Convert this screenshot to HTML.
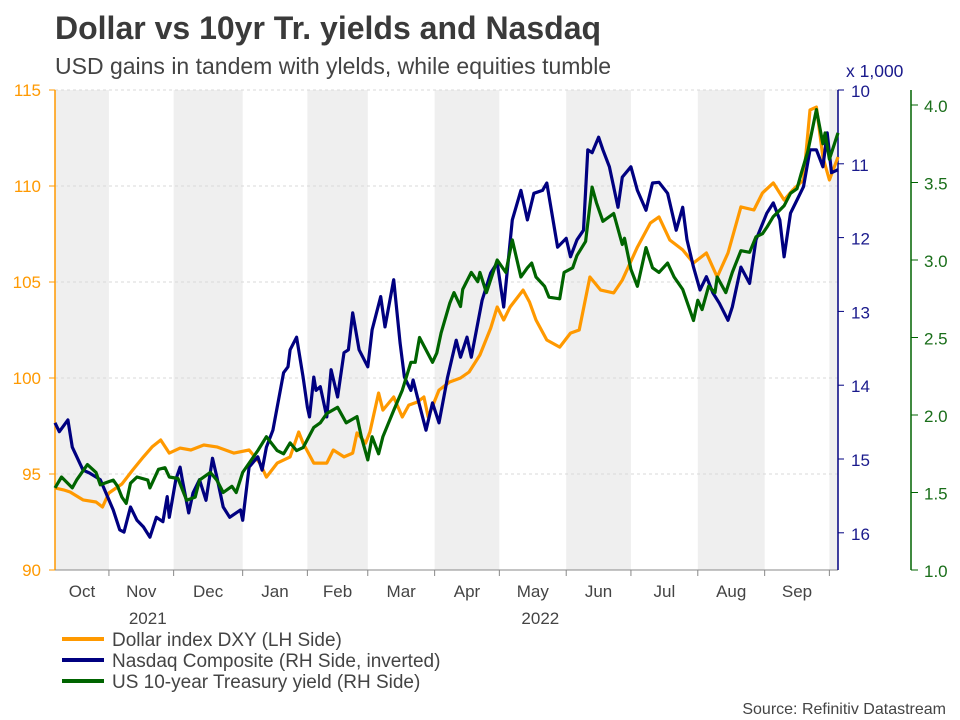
<!DOCTYPE html>
<html><head><meta charset="utf-8"><style>
body{margin:0;background:#fff;font-family:"Liberation Sans",Arial,sans-serif;}
svg{display:block}
</style></head><body>
<svg id="chart" width="960" height="720" xmlns="http://www.w3.org/2000/svg">
<text x="55" y="39" font-size="32" font-weight="bold" fill="#3a3a3a">Dollar vs 10yr Tr. yields and Nasdaq</text>
<text x="55" y="74" font-size="23" fill="#444">USD gains in tandem with ylelds, while equities tumble</text>
<text x="846" y="77" font-size="17.5" fill="#1a1a8c">x 1,000</text>
<g id="bands"></g><g id="grid"></g><g id="axes"></g><g id="series"></g>
<g>
<line x1="62" y1="639" x2="104" y2="639" stroke="#ff9900" stroke-width="4"/>
<text x="112" y="646" font-size="19" fill="#444">Dollar index DXY (LH Side)</text>
<line x1="62" y1="660" x2="104" y2="660" stroke="#000080" stroke-width="4"/>
<text x="112" y="667" font-size="19" fill="#444">Nasdaq Composite (RH Side, inverted)</text>
<line x1="62" y1="681" x2="104" y2="681" stroke="#006400" stroke-width="4"/>
<text x="112" y="688" font-size="19" fill="#444">US 10-year Treasury yield (RH Side)</text>
</g>
<text x="946" y="714" font-size="16" fill="#444" text-anchor="end">Source: Refinitiv Datastream</text>
</svg>
<script>
const dxyDays=[0,4,7,13,19,22,25,31,36,41,45,49,53,58,63,69,75,83,90,95,98,103,109,113,115,120,126,129,134,138,140,144,146,150,152,157,161,164,168,171,173,178,183,188,192,197,202,205,208,211,217,220,223,228,234,239,243,248,253,259,263,270,276,280,285,291,296,302,307,312,318,324,328,333,338,342,347,350,353,356,359,363];
const dxyValues=[94.27,94.17,94.06,93.65,93.54,93.28,94.01,94.48,95.21,95.89,96.41,96.77,96.09,96.35,96.25,96.51,96.41,96.09,96.25,95.57,94.84,95.57,95.89,97.19,96.61,95.57,95.57,96.25,95.89,96.09,97.14,96.61,97.19,99.22,98.33,99.01,97.97,98.59,98.75,99.01,97.97,99.37,99.79,100.0,100.31,101.2,102.6,103.7,103.02,103.7,104.58,103.96,103.02,101.98,101.61,102.34,102.5,105.26,104.58,104.43,105.1,106.82,108.07,108.39,107.19,106.67,105.99,106.51,105.26,106.51,108.91,108.75,109.64,110.16,109.27,109.79,110.31,113.96,114.11,111.51,110.31,111.51];
const nasdaqDays=[0,2,6,8,13,16,21,27,30,32,35,38,41,44,47,50,52,53,56,58,59,62,64,67,70,73,75,78,81,86,87,90,94,96,98,101,106,108,109,112,115,117,118,120,121,123,126,128,131,134,136,138,141,145,147,151,153,157,160,162,165,166,168,172,175,178,182,186,188,191,193,198,202,205,208,212,216,219,222,226,228,233,237,239,242,245,247,249,252,254,257,261,263,267,270,274,277,280,284,288,291,293,296,299,302,305,308,312,314,318,322,325,330,333,336,338,341,344,347,350,353,356,358,360,363];
const nasdaqValues=[14.51,14.63,14.47,14.84,15.15,15.19,15.28,15.69,15.96,15.99,15.65,15.83,15.92,16.06,15.79,15.85,15.51,15.79,15.28,15.11,15.28,15.73,15.46,15.28,15.56,14.99,15.24,15.65,15.79,15.69,15.83,15.11,14.97,15.15,14.84,14.61,13.83,13.75,13.52,13.35,13.89,14.30,14.43,13.89,14.07,14.02,14.43,13.79,14.16,13.56,13.52,13.02,13.52,13.75,13.25,12.80,13.21,12.57,13.43,13.89,14.07,13.93,14.16,14.61,14.24,14.51,13.89,13.39,13.62,13.35,13.62,12.85,12.48,12.34,12.94,11.76,11.36,11.76,11.40,11.36,11.26,12.13,12.01,12.26,12.03,11.90,10.81,10.85,10.64,10.81,11.04,11.59,11.18,11.04,11.36,11.63,11.26,11.25,11.40,11.90,11.59,12.03,12.40,12.71,12.53,12.75,12.89,13.12,12.94,12.40,12.62,12.03,11.67,11.53,11.76,12.26,11.67,11.49,11.31,10.81,10.81,11.04,10.58,11.12,11.08];
const yieldDays=[0,3,8,10,15,19,21,25,27,29,31,33,35,38,43,44,48,51,53,57,61,65,67,72,75,78,82,84,87,94,98,103,106,109,112,115,120,123,126,131,135,140,142,145,147,150,152,157,161,165,167,169,172,175,177,179,183,185,188,189,193,196,197,200,205,209,212,216,219,221,223,227,229,234,236,240,242,246,249,251,254,259,263,264,267,270,274,277,280,284,287,291,296,298,300,303,306,307,311,314,318,322,325,328,330,333,338,341,344,346,349,353,356,357,359,363];
const yieldValues=[1.53,1.60,1.53,1.58,1.68,1.63,1.55,1.57,1.58,1.54,1.47,1.43,1.56,1.60,1.58,1.53,1.65,1.66,1.60,1.59,1.45,1.47,1.58,1.63,1.58,1.50,1.54,1.50,1.63,1.77,1.86,1.77,1.75,1.82,1.77,1.79,1.92,1.95,2.01,2.05,1.95,1.99,1.86,1.71,1.86,1.75,1.86,2.03,2.16,2.34,2.34,2.50,2.42,2.34,2.40,2.53,2.72,2.79,2.70,2.81,2.92,2.86,2.92,2.79,3.00,2.92,3.13,2.89,2.95,2.98,2.89,2.83,2.76,2.75,2.92,2.95,3.03,3.12,3.47,3.37,3.25,3.30,3.10,3.14,2.94,2.83,3.08,2.95,2.92,2.98,2.89,2.81,2.61,2.74,2.68,2.83,2.79,2.89,2.79,2.92,3.06,3.05,3.15,3.17,3.21,3.28,3.35,3.43,3.46,3.56,3.70,3.97,3.75,3.82,3.65,3.82];
const monthLabels=["Oct","Nov","Dec","Jan","Feb","Mar","Apr","May","Jun","Jul","Aug","Sep"];
const monthStartDays=[-6,25,55,87,117,145,176,206,237,267,298,329,359];
const dxyTicks=[90,95,100,105,110,115];
const nasdaqTicks=[10,11,12,13,14,15,16];
const yieldTicks=[1.0,1.5,2.0,2.5,3.0,3.5,4.0];
const yearLabels=[["2021",43],["2022",225]];

const NS="http://www.w3.org/2000/svg";
const X0=55,X1=838,Y0=90,Y1=570;
const xS=d=>X0+(d)*(X1-X0)/363;
const xC=d=>Math.max(X0,Math.min(X1,xS(d)));
const yL=v=>Y1-(v-90)*(Y1-Y0)/25;
const yN=v=>Y0+(v-10)*73.8;
const yY=v=>Y1-(v-1)*155;
function mk(tag,attrs,parent,txt){const e=document.createElementNS(NS,tag);for(const k in attrs)e.setAttribute(k,attrs[k]);if(txt!==undefined)e.textContent=txt;parent.appendChild(e);return e;}
const bands=document.getElementById('bands'),grid=document.getElementById('grid'),axes=document.getElementById('axes'),ser=document.getElementById('series');
for(let i=0;i<12;i+=2){
  const a=xC(monthStartDays[i]),b=xC(monthStartDays[i+1]);
  const r=mk('rect',{x:a,y:Y0,width:b-a,height:Y1-Y0,fill:'#efefef'},bands);
  
  
}
{const a=xC(monthStartDays[12]);const r=mk('rect',{x:a,y:Y0,width:X1-a,height:Y1-Y0,fill:'#efefef'},bands);

}
dxyTicks.forEach(v=>{
  const y=yL(v);
  if(v>90){const g=mk('line',{x1:X0,x2:X1,y1:y,y2:y,stroke:'#d8d8d8','stroke-dasharray':'3,3'},grid);
  
  }
  mk('line',{x1:49,x2:X0,y1:y,y2:y,stroke:'#ff9900'},axes);
  const t=mk('text',{x:41,y:y+6,'font-size':17,fill:'#ff9900','text-anchor':'end'},axes,String(v));
  
  
});
const la=mk('line',{x1:X0,x2:X0,y1:Y0,y2:Y1,stroke:'#ff9900','stroke-width':1.5},axes);


const xa=mk('line',{x1:X0,x2:X1,y1:Y1,y2:Y1,stroke:'#888'},axes);


monthStartDays.forEach((d,i)=>{
  if(d>0)mk('line',{x1:xS(d),x2:xS(d),y1:Y1,y2:Y1+6,stroke:'#888'},axes);
  if(i<12){const c=(xC(d)+xC(monthStartDays[i+1]))/2;
  const t=mk('text',{x:c,y:597,'font-size':17,fill:'#444','text-anchor':'middle'},axes,monthLabels[i]);
  
  }
});
yearLabels.forEach(([s,d])=>{
  const t=mk('text',{x:xS(d),y:624,'font-size':17,fill:'#444','text-anchor':'middle'},axes,s);
  
  
});
const na=mk('line',{x1:X1,x2:X1,y1:Y0,y2:Y1,stroke:'#000080','stroke-width':1.5},axes);


nasdaqTicks.forEach(v=>{const y=yN(v);mk('line',{x1:X1,x2:X1+6,y1:y,y2:y,stroke:'#000080'},axes);
  const t=mk('text',{x:851,y:y+7,'font-size':17,fill:'#1a1a8c'},axes,String(v));
  
  });
const ga=mk('line',{x1:911,x2:911,y1:Y0,y2:Y1,stroke:'#006400','stroke-width':1.5},axes);


yieldTicks.forEach(v=>{const y=yY(v);mk('line',{x1:911,x2:918,y1:y,y2:y,stroke:'#006400'},axes);
  const t=mk('text',{x:924,y:y+7,'font-size':17,fill:'#1a6e1a'},axes,v.toFixed(1));
  
  });
function line(days,vals,ys,color,name){
  const d=days.map((dd,i)=>(i?'L':'M')+xS(dd).toFixed(1)+','+ys(vals[i]).toFixed(1)).join('');
  const p=mk('path',{d:d,fill:'none',stroke:color,'stroke-width':3.2,'stroke-linejoin':'round'},ser);
  
  
}
line(dxyDays,dxyValues,yL,'#ff9900','dxy-line');
line(nasdaqDays,nasdaqValues,yN,'#000080','nasdaq-line');
line(yieldDays,yieldValues,yY,'#006400','yield-line');
</script>
</body></html>
